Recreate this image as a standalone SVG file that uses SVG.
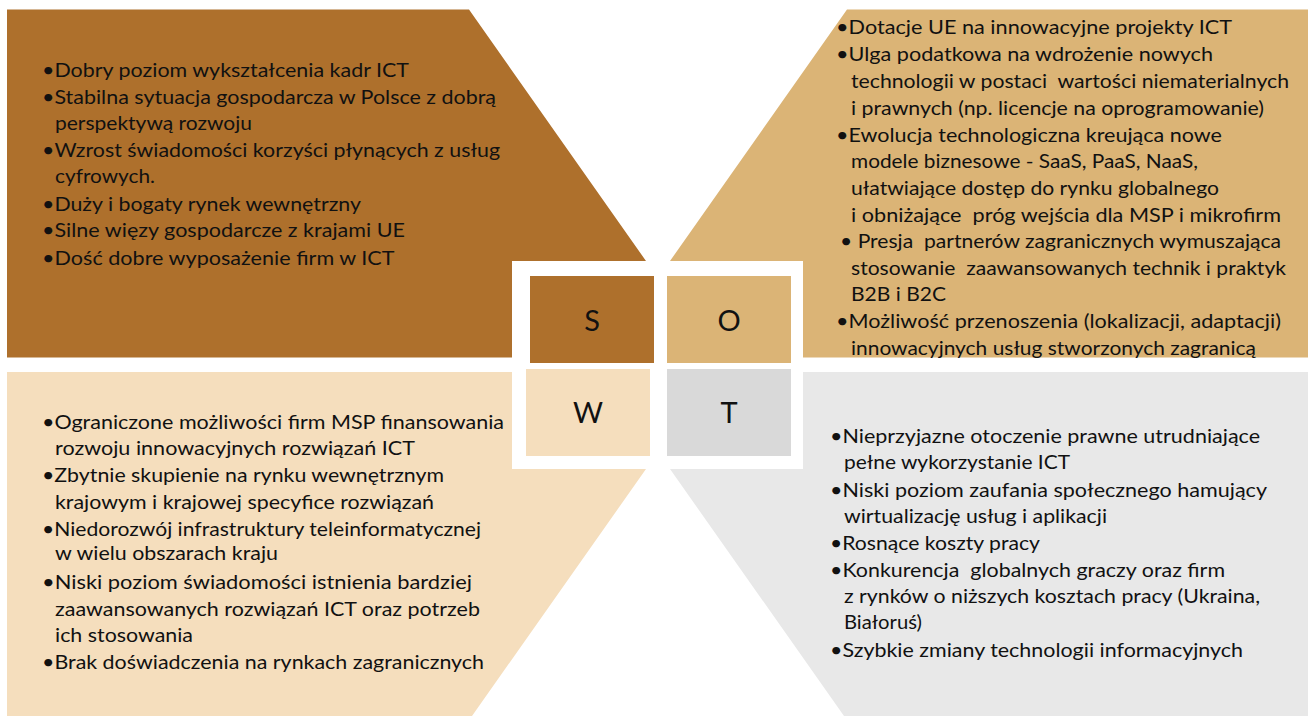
<svg xmlns="http://www.w3.org/2000/svg" width="1309" height="716" viewBox="0 0 1309 716">
<style>
.t{font-family:Lato,"Liberation Sans",sans-serif;font-size:20px;fill:#111;white-space:pre}
.l{font-family:Lato,"Liberation Sans",sans-serif;font-size:29px;fill:#111;text-anchor:middle}
.cs{fill:#AE702C}.co{fill:#DBB476}.cw{fill:#F5DEBD}.ct{fill:#E8E8E8}.bt{fill:#D9D9D9}
</style>
<rect width="1309" height="716" fill="#fff"/>
<g id="quad-s">
<polygon class="cs" points="7,9.5 469,9.5 646,261 512,261 512,357.5 7,357.5"/>
<text class="t" x="42" y="77" textLength="367" lengthAdjust="spacingAndGlyphs">•Dobry poziom wykształcenia kadr ICT</text>
<text class="t" x="42" y="104" textLength="454" lengthAdjust="spacingAndGlyphs">•Stabilna sytuacja gospodarcza w Polsce z dobrą</text>
<text class="t" x="55" y="130" textLength="197" lengthAdjust="spacingAndGlyphs">perspektywą rozwoju</text>
<text class="t" x="42" y="157" textLength="458" lengthAdjust="spacingAndGlyphs">•Wzrost świadomości korzyści płynących z usług</text>
<text class="t" x="55" y="183" textLength="100" lengthAdjust="spacingAndGlyphs">cyfrowych.</text>
<text class="t" x="42" y="210.5" textLength="319" lengthAdjust="spacingAndGlyphs">•Duży i bogaty rynek wewnętrzny</text>
<text class="t" x="42" y="237" textLength="363" lengthAdjust="spacingAndGlyphs">•Silne więzy gospodarcze z krajami UE</text>
<text class="t" x="42" y="264.5" textLength="352.5" lengthAdjust="spacingAndGlyphs">•Dość dobre wyposażenie firm w ICT</text>
</g>
<g id="quad-o">
<polygon class="co" points="847,9.5 1308,9.5 1308,357.5 803,357.5 803,261 670,261"/>
<text class="t" x="836" y="34" textLength="396" lengthAdjust="spacingAndGlyphs">•Dotacje UE na innowacyjne projekty ICT</text>
<text class="t" x="836" y="61" textLength="377" lengthAdjust="spacingAndGlyphs">•Ulga podatkowa na wdrożenie nowych</text>
<text class="t" x="851" y="88" textLength="438" lengthAdjust="spacingAndGlyphs">technologii w postaci  wartości niematerialnych</text>
<text class="t" x="851" y="115" textLength="413" lengthAdjust="spacingAndGlyphs">i prawnych (np. licencje na oprogramowanie)</text>
<text class="t" x="836" y="141.5" textLength="386" lengthAdjust="spacingAndGlyphs">•Ewolucja technologiczna kreująca nowe</text>
<text class="t" x="851" y="168" textLength="347" lengthAdjust="spacingAndGlyphs">modele biznesowe - SaaS, PaaS, NaaS,</text>
<text class="t" x="851" y="195" textLength="368" lengthAdjust="spacingAndGlyphs">ułatwiające dostęp do rynku globalnego</text>
<text class="t" x="851" y="221.5" textLength="430" lengthAdjust="spacingAndGlyphs">i obniżające  próg wejścia dla MSP i mikrofirm</text>
<text class="t" x="840" y="248" textLength="441" lengthAdjust="spacingAndGlyphs">• Presja  partnerów zagranicznych wymuszająca</text>
<text class="t" x="851" y="275" textLength="435" lengthAdjust="spacingAndGlyphs">stosowanie  zaawansowanych technik i praktyk</text>
<text class="t" x="851" y="301" textLength="95" lengthAdjust="spacingAndGlyphs">B2B i B2C</text>
<text class="t" x="836" y="328" textLength="445" lengthAdjust="spacingAndGlyphs">•Możliwość przenoszenia (lokalizacji, adaptacji)</text>
<text class="t" x="851" y="355" textLength="405" lengthAdjust="spacingAndGlyphs">innowacyjnych usług stworzonych zagranicą</text>
</g>
<g id="quad-w">
<polygon class="cw" points="7,372 512,372 512,469 646,469 472,716 7,716"/>
<text class="t" x="42" y="429" textLength="462" lengthAdjust="spacingAndGlyphs">•Ograniczone możliwości firm MSP finansowania</text>
<text class="t" x="55" y="455" textLength="360" lengthAdjust="spacingAndGlyphs">rozwoju innowacyjnych rozwiązań ICT</text>
<text class="t" x="42" y="482" textLength="402" lengthAdjust="spacingAndGlyphs">•Zbytnie skupienie na rynku wewnętrznym</text>
<text class="t" x="55" y="509" textLength="379" lengthAdjust="spacingAndGlyphs">krajowym i krajowej specyfice rozwiązań</text>
<text class="t" x="42" y="535.5" textLength="439" lengthAdjust="spacingAndGlyphs">•Niedorozwój infrastruktury teleinformatycznej</text>
<text class="t" x="55" y="559.5" textLength="223" lengthAdjust="spacingAndGlyphs">w wielu obszarach kraju</text>
<text class="t" x="42" y="589" textLength="430" lengthAdjust="spacingAndGlyphs">•Niski poziom świadomości istnienia bardziej</text>
<text class="t" x="55" y="616" textLength="425" lengthAdjust="spacingAndGlyphs">zaawansowanych rozwiązań ICT oraz potrzeb</text>
<text class="t" x="55" y="642" textLength="138" lengthAdjust="spacingAndGlyphs">ich stosowania</text>
<text class="t" x="42" y="669" textLength="442" lengthAdjust="spacingAndGlyphs">•Brak doświadczenia na rynkach zagranicznych</text>
</g>
<g id="quad-t">
<polygon class="ct" points="803,372 1308,372 1308,716 844,716 670,469 803,469"/>
<text class="t" x="830" y="443" textLength="430" lengthAdjust="spacingAndGlyphs">•Nieprzyjazne otoczenie prawne utrudniające</text>
<text class="t" x="844" y="469" textLength="226" lengthAdjust="spacingAndGlyphs">pełne wykorzystanie ICT</text>
<text class="t" x="830" y="496.5" textLength="437" lengthAdjust="spacingAndGlyphs">•Niski poziom zaufania społecznego hamujący</text>
<text class="t" x="844" y="522.5" textLength="263" lengthAdjust="spacingAndGlyphs">wirtualizację usług i aplikacji</text>
<text class="t" x="830" y="550" textLength="210" lengthAdjust="spacingAndGlyphs">•Rosnące koszty pracy</text>
<text class="t" x="830" y="576.5" textLength="395" lengthAdjust="spacingAndGlyphs">•Konkurencja  globalnych graczy oraz firm</text>
<text class="t" x="844" y="602.5" textLength="416" lengthAdjust="spacingAndGlyphs">z rynków o niższych kosztach pracy (Ukraina,</text>
<text class="t" x="844" y="629" textLength="78" lengthAdjust="spacingAndGlyphs">Białoruś)</text>
<text class="t" x="830" y="656.5" textLength="413" lengthAdjust="spacingAndGlyphs">•Szybkie zmiany technologii informacyjnych</text>
</g>
<g id="frame">
<rect x="512" y="261" width="291" height="208" fill="#fff"/>
</g>
<g id="box-s">
<rect class="cs" x="530" y="276" width="124" height="87"/>
<text class="l" x="592" y="330.5">S</text>
</g>
<g id="box-o">
<rect class="co" x="667" y="276" width="124" height="87"/>
<text class="l" x="729" y="330.5">O</text>
</g>
<g id="box-w">
<rect class="cw" x="526" y="369" width="124" height="87"/>
<text class="l" x="588" y="422.5">W</text>
</g>
<g id="box-t">
<rect class="bt" x="667" y="369" width="124" height="87"/>
<text class="l" x="729" y="422.5">T</text>
</g>
</svg>
